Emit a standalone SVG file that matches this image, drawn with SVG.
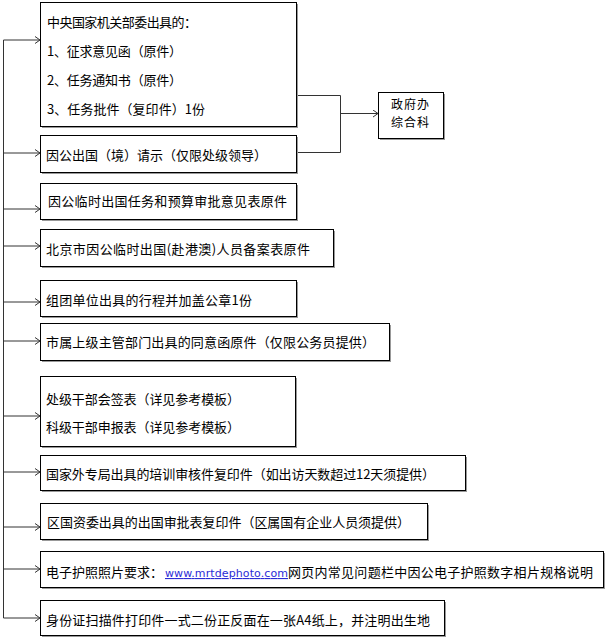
<svg xmlns="http://www.w3.org/2000/svg" width="606" height="638" viewBox="0 0 606 638">
<defs>
<marker id="arr" markerWidth="8" markerHeight="8" refX="6" refY="4" orient="auto" markerUnits="userSpaceOnUse">
<path d="M1,0.5 L6,4 L1,7.5" fill="none" stroke="#333" stroke-width="1"/>
</marker>
<style>
.box{fill:#fff;stroke:#000;stroke-width:1}
.sh{fill:#999;stroke:none}
.t{font-family:"Noto Sans CJK SC","Noto Sans",sans-serif;font-size:13px;fill:#000}
.c{fill:none;stroke:#333;stroke-width:1}
.url{font-family:"DejaVu Sans",sans-serif;font-size:11px;fill:#2b2bd6;text-decoration:underline}
</style>
</defs>
<rect width="606" height="638" fill="#fff"/>
<g id="connectors">
<path class="c" d="M3.5,40 V618"/>
<path class="c" d="M3.5,40 H40" marker-end="url(#arr)"/>
<path class="c" d="M3.5,153 H40" marker-end="url(#arr)"/>
<path class="c" d="M3.5,209 H40" marker-end="url(#arr)"/>
<path class="c" d="M3.5,246 H40" marker-end="url(#arr)"/>
<path class="c" d="M3.5,302 H40" marker-end="url(#arr)"/>
<path class="c" d="M3.5,341 H40" marker-end="url(#arr)"/>
<path class="c" d="M3.5,416 H40" marker-end="url(#arr)"/>
<path class="c" d="M3.5,472 H40" marker-end="url(#arr)"/>
<path class="c" d="M3.5,527 H40" marker-end="url(#arr)"/>
<path class="c" d="M3.5,569 H40" marker-end="url(#arr)"/>
<path class="c" d="M3.5,618 H40" marker-end="url(#arr)"/>
<path class="c" d="M296,95.5 H340.5 V152.5 H296"/>
<path class="c" d="M340.5,113.5 H378" marker-end="url(#arr)"/>
</g>
<g id="n1">
<rect class="sh" x="42" y="4" width="256" height="124"/>
<rect class="box" x="40.5" y="2.5" width="256" height="124"/>
<text class="t" x="47" y="27" textLength="150">中央国家机关部委出具的：</text>
<text class="t" x="47" y="56" textLength="135">1、征求意见函（原件）</text>
<text class="t" x="47" y="85" textLength="135">2、任务通知书（原件）</text>
<text class="t" x="47" y="114" textLength="158">3、任务批件（复印件）1份</text>
</g>
<g id="n2">
<rect class="sh" x="42" y="137" width="256" height="37"/>
<rect class="box" x="40.5" y="135.5" width="256" height="37"/>
<text class="t" x="46" y="160" textLength="221">因公出国（境）请示（仅限处级领导）</text>
</g>
<g id="n3">
<rect class="sh" x="42" y="185" width="256" height="36"/>
<rect class="box" x="40.5" y="183.5" width="256" height="36"/>
<text class="t" x="48" y="206" textLength="239">因公临时出国任务和预算审批意见表原件</text>
</g>
<g id="n4">
<rect class="sh" x="42" y="231" width="293" height="37"/>
<rect class="box" x="40.5" y="229.5" width="293" height="37"/>
<text class="t" x="46" y="254" textLength="264">北京市因公临时出国(赴港澳)人员备案表原件</text>
</g>
<g id="n5">
<rect class="sh" x="42" y="282" width="256" height="36"/>
<rect class="box" x="40.5" y="280.5" width="256" height="36"/>
<text class="t" x="46" y="305" textLength="206">组团单位出具的行程并加盖公章1份</text>
</g>
<g id="n6">
<rect class="sh" x="42" y="325" width="349" height="37"/>
<rect class="box" x="40.5" y="323.5" width="349" height="37"/>
<text class="t" x="46" y="347" textLength="329">市属上级主管部门出具的同意函原件（仅限公务员提供）</text>
</g>
<g id="n7">
<rect class="sh" x="42" y="378" width="255" height="70"/>
<rect class="box" x="40.5" y="376.5" width="255" height="70"/>
<text class="t" x="46" y="404" textLength="194">处级干部会签表（详见参考模板）</text>
<text class="t" x="46" y="432" textLength="194">科级干部申报表（详见参考模板）</text>
</g>
<g id="n8">
<rect class="sh" x="42" y="457" width="425" height="35"/>
<rect class="box" x="40.5" y="455.5" width="425" height="35"/>
<text class="t" x="46" y="479" textLength="389">国家外专局出具的培训审核件复印件（如出访天数超过12天须提供）</text>
</g>
<g id="n9">
<rect class="sh" x="42" y="505" width="387" height="36"/>
<rect class="box" x="40.5" y="503.5" width="387" height="36"/>
<text class="t" x="47" y="527" textLength="363">区国资委出具的出国审批表复印件（区属国有企业人员须提供）</text>
</g>
<g id="n10">
<rect class="sh" x="42" y="553" width="563" height="36"/>
<rect class="box" x="40.5" y="551.5" width="563" height="36"/>
<text class="t" x="46" y="577" textLength="117">电子护照照片要求：</text>
<text class="url" x="165" y="577" textLength="123">www.mrtdephoto.com</text>
<text class="t" x="288" y="577" textLength="305">网页内常见问题栏中因公电子护照数字相片规格说明</text>
</g>
<g id="n11">
<rect class="sh" x="42" y="602" width="404" height="35"/>
<rect class="box" x="40.5" y="600.5" width="404" height="35"/>
<text class="t" x="46" y="625" textLength="384">身份证扫描件打印件一式二份正反面在一张A4纸上，并注明出生地</text>
</g>
<g id="n12">
<rect class="sh" x="380" y="94" width="65" height="46"/>
<rect class="box" x="378.5" y="92.5" width="65" height="46"/>
<text class="t" x="410" y="109" text-anchor="middle" style="font-size:12px" textLength="38">政府办</text>
<text class="t" x="410" y="127" text-anchor="middle" style="font-size:12px" textLength="38">综合科</text>
</g>
</svg>
